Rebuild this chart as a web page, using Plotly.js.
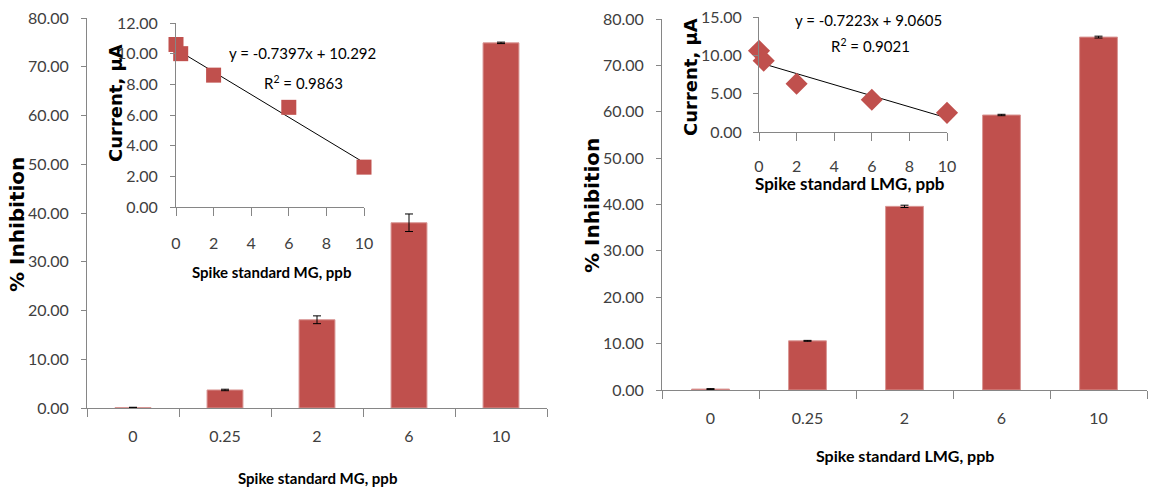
<!DOCTYPE html>
<html>
<head>
<meta charset="utf-8">
<script src="https://cdn.plot.ly/plotly-3.0.1.min.js"></script>
<style>html,body{margin:0;padding:0;background:#fff;}#chart{width:1153px;height:493px;}</style>
</head>
<body>
<div id="chart"></div>
<script>
// ---- data ----
const categories = ['0', '0.25', '2', '6', '10'];
const inhibitionMG = [0.1, 3.7, 18.1, 38.0, 74.9];
const inhibitionMGErr = [0.05, 0.15, 0.8, 1.8, 0.15];
const inhibitionLMG = [0.2, 10.6, 39.6, 59.3, 76.1];
const inhibitionLMGErr = [0.1, 0.1, 0.25, 0.15, 0.2];

const spikeX = [0, 0.25, 2, 6, 10];
const currentMG = [10.6, 10.0, 8.6, 6.5, 2.6];
const currentLMG = [10.6, 9.3, 6.3, 4.2, 2.5];

const fitMG = {slope: -0.7397, intercept: 10.292, r2: '0.9863'};
const fitLMG = {slope: -0.7223, intercept: 9.0605, r2: '0.9021'};
const trendX = [0, 10];

// ---- helpers ----
const W = 1153, H = 493;
const px = v => v / W;
const py = v => 1 - v / H;
const barColor = '#C0504D';
const axisColor = '#868686';
const tickColor = '#404040';
const narrow = 'Lato, Roboto, "Liberation Sans", sans-serif';
const boldWide = '"DejaVu Sans", Verdana, sans-serif';

function trendY(fit) { return trendX.map(x => fit.slope * x + fit.intercept); }
function eqText(fit) {
  return 'y = ' + fit.slope.toFixed(4) + 'x + ' + fit.intercept;
}

const traces = [
  {type: 'bar', x: categories, y: inhibitionMG, xaxis: 'x', yaxis: 'y',
   marker: {color: barColor, line: {color: '#d99694', width: 1}}, width: 0.39,
   error_y: {type: 'data', array: inhibitionMGErr, visible: true, color: '#000', thickness: 1, width: 4}},
  {type: 'bar', x: categories, y: inhibitionLMG, xaxis: 'x2', yaxis: 'y2',
   marker: {color: barColor, line: {color: '#d99694', width: 1}}, width: 0.39,
   error_y: {type: 'data', array: inhibitionLMGErr, visible: true, color: '#000', thickness: 1, width: 4}},
  {type: 'scatter', mode: 'lines', x: trendX, y: trendY(fitMG), xaxis: 'x3', yaxis: 'y3',
   line: {color: '#000', width: 1}, cliponaxis: false},
  {type: 'scatter', mode: 'markers', x: spikeX, y: currentMG, xaxis: 'x3', yaxis: 'y3',
   marker: {symbol: 'square', size: 15, color: barColor}, cliponaxis: false},
  {type: 'scatter', mode: 'lines', x: trendX, y: trendY(fitLMG), xaxis: 'x4', yaxis: 'y4',
   line: {color: '#000', width: 1}, cliponaxis: false},
  {type: 'scatter', mode: 'markers', x: spikeX, y: currentLMG, xaxis: 'x4', yaxis: 'y4',
   marker: {symbol: 'diamond', size: 17, color: barColor}, cliponaxis: false}
];

const tickFont = {family: narrow, size: 16, color: tickColor};

function catAxis(x0, x1, yAnchor) {
  return {domain: [px(x0), px(x1)], anchor: yAnchor, type: 'category', tickson: 'boundaries',
    ticks: 'outside', ticklen: 8, tickcolor: axisColor, showline: true, linecolor: axisColor,
    linewidth: 1, showgrid: false, zeroline: false, tickfont: tickFont, ticklabelstandoff: 14, fixedrange: true};
}
function valAxis(y0, y1, xAnchor, range, dtick, standoff) {
  return {domain: [py(y0), py(y1)], anchor: xAnchor, range: range, dtick: dtick, tickformat: '.2f',
    ticks: 'outside', ticklen: 5, tickcolor: axisColor, showline: true, linecolor: axisColor,
    linewidth: 1, showgrid: false, zeroline: false, tickfont: tickFont, ticklabelstandoff: standoff, fixedrange: true};
}
function linAxis(x0, x1, yAnchor, standoff) {
  return {domain: [px(x0), px(x1)], anchor: yAnchor, range: [0, 10], dtick: 2,
    ticks: 'outside', ticklen: 8, tickcolor: axisColor, showline: true, linecolor: axisColor,
    linewidth: 1, showgrid: false, zeroline: false, tickfont: tickFont, ticklabelstandoff: standoff, fixedrange: true};
}

function ann(text, x, y, font, angle) {
  return {text: text, xref: 'paper', yref: 'paper', x: px(x), y: py(y), xanchor: 'center', yanchor: 'middle',
    showarrow: false, font: font, textangle: angle || 0};
}
const yTitleFont = {family: boldWide, size: 20, color: '#000', weight: 'bold'};
const insetYTitleFont = {family: boldWide, size: 18, color: '#000', weight: 'bold'};
const xTitleFont = {family: narrow, size: 15, color: '#000', weight: 'bold'};
const xTitleFontR = {family: narrow, size: 16, color: '#000', weight: 'bold'};
const eqFont = {family: narrow, size: 15, color: '#000'};

const layout = {
  width: W, height: H, margin: {l: 0, r: 0, t: 0, b: 0},
  paper_bgcolor: '#fff', plot_bgcolor: 'rgba(0,0,0,0)', showlegend: false,
  xaxis: catAxis(87, 547, 'y'),
  yaxis: valAxis(408, 18, 'x', [0, 80], 10, 9),
  xaxis2: catAxis(662, 1147, 'y2'),
  yaxis2: valAxis(390, 19, 'x2', [0, 80], 10, 9),
  xaxis3: linAxis(176, 364, 'y3', 14),
  yaxis3: valAxis(207, 23, 'x3', [0, 12], 2, 9),
  xaxis4: linAxis(759, 947, 'y4', 12),
  yaxis4: valAxis(132, 17, 'x4', [0, 15], 5, 8),
  annotations: [
    ann('% Inhibition', 17, 225, yTitleFont, -90),
    ann('Spike standard MG, ppb', 317, 478, xTitleFont),
    ann('Current, µA', 115, 103, insetYTitleFont, -90),
    ann('Spike standard MG, ppb', 271, 272, xTitleFont),
    ann(eqText(fitMG), 302, 53, eqFont),
    ann('R<sup>2</sup> = ' + fitMG.r2, 303, 82, eqFont),
    ann('% Inhibition', 592, 206, yTitleFont, -90),
    ann('Spike standard LMG, ppb', 905, 455, xTitleFontR),
    ann('Current, µA', 690, 77, insetYTitleFont, -90),
    ann('Spike standard LMG, ppb', 850, 183, {family: narrow, size: 17, color: '#000', weight: 'bold'}),
    ann(eqText(fitLMG), 868, 20, eqFont),
    ann('R<sup>2</sup> = ' + fitLMG.r2, 870, 46, eqFont)
  ]
};

Plotly.newPlot('chart', traces, layout, {staticPlot: true, displayModeBar: false});
</script>
</body>
</html>
